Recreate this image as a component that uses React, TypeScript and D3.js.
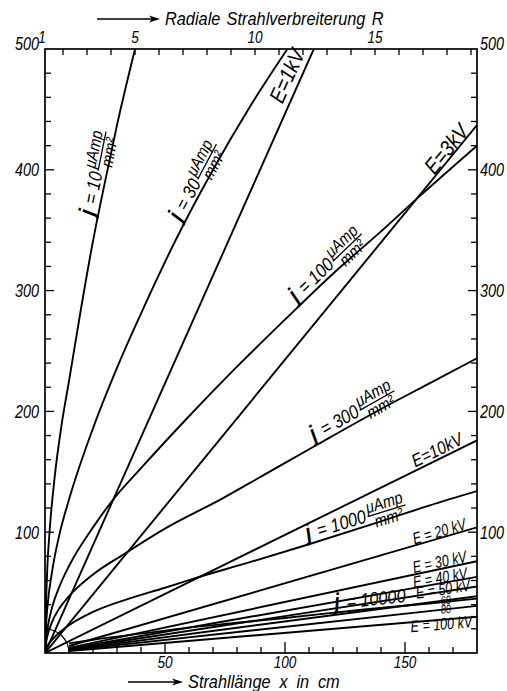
import React, { useEffect, useRef } from 'react';
import * as d3 from 'd3';

// values
// x = Strahllänge in cm, v = ordinate of the left / right scale
const yTicks = [100, 200, 300, 400, 500];
const xTicks = [50, 100, 150];
const rTicks = [1, 5, 10, 15];
const rAtZero = 1.25; // R at x = 0
const cmPerR = 10;
const arcCm = 10; // small quarter circle round the origin

// straight lines of constant voltage, end point (x, v)
const eNames = ['E=1kV', 'E=3kV', 'E=10kV', 'E = 20 kV', 'E = 30 kV', 'E = 40 kV', 'E = 50 kV', '60', '80', 'E = 100 kV'];
const eEndX = [112, 180, 180, 180, 180, 180, 180, 180, 180, 180];
const eEndV = [500, 437, 176, 104, 76, 63, 55, 47, 39, 30];

// curves of constant current density j
const jNames = ['10', '30', '100', '300', '1000', '10000'];
const j10 = [[0, 0], [0.5, 45], [1, 72], [2, 103], [4, 145], [7, 190], [10, 225], [15, 285], [20, 341], [25, 390], [30, 437], [37.5, 500]];
const j30 = [[0, 0], [0.5, 25], [1, 38], [3, 68], [6, 98], [10, 127], [20, 186], [30, 236], [40, 281], [54, 340], [70, 400], [85, 451], [101, 500]];
const j100 = [[0, 0], [0.5, 13], [1, 20], [3, 38], [6, 55], [10, 72], [20, 104], [28, 126], [40, 153], [60, 196], [80, 237], [100, 276], [120, 314], [140, 349], [156, 378], [180, 420]];
const j300 = [[0, 0], [0.5, 9], [1, 14], [3, 26], [6, 37], [10, 47], [20, 65], [33, 82], [50, 103], [74, 128], [90, 146], [113, 172], [140, 202], [160, 223], [180, 244]];
const j1000 = [[0, 0], [0.5, 4], [1, 6], [3, 11], [6, 17], [10, 23], [20, 34], [35, 45], [50, 54], [61, 61], [85, 75], [110, 90], [140, 109], [160, 122], [180, 134]];
const j10000 = [[0, 0], [1, 2], [3, 4], [6, 6], [10, 8], [20, 11], [40, 16], [60, 21], [80, 25], [100, 29], [133, 36], [160, 41], [180, 45]];
const jCurves = [j10, j30, j100, j300, j1000, j10000];

// where the inscriptions sit (cm along the line, lift in px)
const eLabelAt = [106, 170, 165, 165, 165, 165, 166, 167, 167, 165];
const eLabelLift = [6, 1, 3, 1, 1.5, 0, -3, -4, -4, -10];
const eLabelSize = [22, 22, 18, 16.5, 16.5, 16.5, 16.5, 12, 12, 16.5];
const jLabelAt = [22, 58, 106, 113, 110, 121];
const jLabelLift = [4, 4, 4, 4, 4, 3];

const FONT = "'Liberation Sans', Arial, sans-serif";
const SQUEEZE = 0.86; // hand lettering is narrow

const interp = (pts: number[][], xv: number) => {
    for (let i = 0; i < pts.length - 1; i++) {
        const a = pts[i], b = pts[i + 1];
        if (xv >= a[0] && xv <= b[0]) return a[1] + (b[1] - a[1]) * (xv - a[0]) / (b[0] - a[0]);
    }
    return pts[pts.length - 1][1];
};

const App = () => {
    const ref = useRef<SVGSVGElement>(null);

    const graph = () => {
        const svg = d3.select(ref.current);
        svg.selectAll('*').remove();

        const x = d3.scaleLinear().domain([0, 180]).range([45, 477]);
        const y = d3.scaleLinear().domain([0, 500]).range([653, 49]);
        const r = d3.scaleLinear().domain([rAtZero, rAtZero + 180 / cmPerR]).range(x.range());
        const [x0, x1] = x.range();
        const [y0, y1] = y.range();

        svg.append('rect').attr('width', 507).attr('height', 691).attr('fill', '#fff');

        svg.append('defs').append('clipPath').attr('id', 'plot')
            .append('rect').attr('x', x0).attr('y', y1).attr('width', x1 - x0).attr('height', y0 - y1);

        // narrow italic text at a point
        const txt = (parent: any, tx: number, ty: number, s: string | number, size: number, anchor = 'start', sq = SQUEEZE) =>
            parent.append('text')
                .attr('transform', `translate(${tx},${ty}) scale(${sq},1)`)
                .attr('text-anchor', anchor).attr('font-size', size).text(s);

        // ticks
        const ax = svg.append('g').attr('stroke', '#000').attr('stroke-width', 1.3);
        d3.range(20, 500, 20).forEach(v => {
            const len = v % 100 === 0 ? 9 : 6;
            ax.append('line').attr('x1', x0).attr('x2', x0 + len).attr('y1', y(v)).attr('y2', y(v));
            ax.append('line').attr('x1', x1).attr('x2', x1 - len).attr('y1', y(v)).attr('y2', y(v));
        });
        d3.range(10, 180, 10).forEach(c => {
            const len = c % 50 === 0 ? 11 : 6;
            ax.append('line').attr('x1', x(c)).attr('x2', x(c)).attr('y1', y0).attr('y2', y0 - len);
        });
        d3.range(2, 20).forEach(R => {
            if (r(R) < x1 - 2) ax.append('line').attr('x1', r(R)).attr('x2', r(R)).attr('y1', y1).attr('y2', y1 + 6);
        });

        // tick labels
        const lab = svg.append('g').attr('font-family', FONT).attr('font-style', 'italic').attr('fill', '#000');
        yTicks.forEach(v => {
            const dy = v === 500 ? 1 : 6.5;
            txt(lab, x0 - 6, y(v) + dy, v, 18, 'end', 0.8);
            txt(lab, x1 + 3, y(v) + dy, v, 18, 'start', 0.8);
        });
        xTicks.forEach(c => txt(lab, x(c), y0 + 15, c, 17, 'middle', 0.8));
        rTicks.forEach(R => txt(lab, r(R) + (R === 1 ? 3 : 0), y1 - 6, R, 17, 'middle', 0.8));

        // axis titles with arrows
        const arrow = (xa: number, xb: number, yy: number) => {
            svg.append('line').attr('x1', xa).attr('x2', xb - 6).attr('y1', yy).attr('y2', yy)
                .attr('stroke', '#000').attr('stroke-width', 1.4);
            svg.append('path').attr('d', `M${xb},${yy}L${xb - 11},${yy - 3.5}L${xb - 8},${yy}L${xb - 11},${yy + 3.5}Z`).attr('fill', '#000');
        };
        arrow(97, 160, 19);
        txt(lab, 165, 25, 'Radiale Strahlverbreiterung  R', 19).attr('word-spacing', 2);
        arrow(128, 183, 682);
        txt(lab, 188, 688, 'Strahllänge x in cm', 19).attr('word-spacing', 5);

        // lines and curves
        const plot = svg.append('g').attr('clip-path', 'url(#plot)').attr('fill', 'none')
            .attr('stroke', '#000').attr('stroke-width', 1.9).attr('stroke-linejoin', 'round');
        const line = d3.line<number[]>().x(d => x(d[0])).y(d => y(d[1]));
        const curve = d3.line<number[]>().x(d => x(d[0])).y(d => y(d[1])).curve(d3.curveMonotoneX);

        eNames.forEach((n, i) => {
            const k = eEndV[i] / eEndX[i];
            const s = eEndV[i] < 120 ? arcCm : 0;
            plot.append('path').attr('d', line([[s, s * k], [eEndX[i], eEndV[i]]]));
        });
        jCurves.forEach(pts => {
            const last = pts[pts.length - 1][1];
            const data = last < 120 ? pts.filter(p => p[0] >= arcCm) : pts;
            plot.append('path').attr('d', curve(data));
        });
        const rad = x(arcCm) - x(0);
        plot.append('path').attr('stroke-width', 1.2)
            .attr('d', `M${x0},${y0 - rad}A${rad},${rad} 0 0 1 ${x0 + rad},${y0}`);

        // frame
        svg.append('rect').attr('x', x0).attr('y', y1).attr('width', x1 - x0).attr('height', y0 - y1)
            .attr('fill', 'none').attr('stroke', '#000').attr('stroke-width', 1.7);

        // inscriptions
        const lg = svg.append('g').attr('font-family', FONT).attr('font-style', 'italic').attr('fill', '#000');
        eNames.forEach((n, i) => {
            const k = eEndV[i] / eEndX[i];
            const xc = eLabelAt[i];
            const sq = i >= 3 ? 0.76 : SQUEEZE;
            const ang = Math.atan2(y(eEndV[i]) - y(0), x(eEndX[i]) - x(0)) * 180 / Math.PI;
            lg.append('text')
                .attr('transform', `translate(${x(xc)},${y(xc * k)}) rotate(${ang}) translate(0,${-eLabelLift[i]}) scale(${sq},1)`)
                .attr('text-anchor', 'middle').attr('font-size', eLabelSize[i]).text(n);
        });
        jNames.forEach((n, i) => {
            const pts = jCurves[i];
            const xs = jLabelAt[i];
            const px = x(xs), py = y(interp(pts, xs));
            const ang = Math.atan2(y(interp(pts, xs + 2)) - y(interp(pts, xs - 2)), x(xs + 2) - x(xs - 2)) * 180 / Math.PI;
            const g = lg.append('g')
                .attr('transform', `translate(${px},${py}) rotate(${ang}) translate(0,${-jLabelLift[i]}) scale(${SQUEEZE},1)`);
            g.append('text').attr('font-size', 23).attr('font-weight', 'bold').text('j');
            const main = g.append('text').attr('x', 14).attr('font-size', 19).text(`= ${n}`);
            if (i < 5) {
                const w = (main.node() as SVGTextElement).getComputedTextLength();
                const fx = 14 + w + 3;
                const num = g.append('text').attr('x', fx).attr('y', -8).attr('font-size', 17).text('μAmp');
                const nw = (num.node() as SVGTextElement).getComputedTextLength();
                g.append('line').attr('x1', fx - 1).attr('x2', fx + nw + 1).attr('y1', -5).attr('y2', -5)
                    .attr('stroke', '#000').attr('stroke-width', 1.3);
                g.append('text').attr('x', fx + nw / 2).attr('y', 8).attr('text-anchor', 'middle')
                    .attr('font-size', 17).text('mm²');
            }
        });
    };

    useEffect(() => graph());
    return (
        <svg ref={ref} width="507" height="691" style={{ position: 'absolute', left: 0, top: 0 }}></svg>
    );
};

export default App;
